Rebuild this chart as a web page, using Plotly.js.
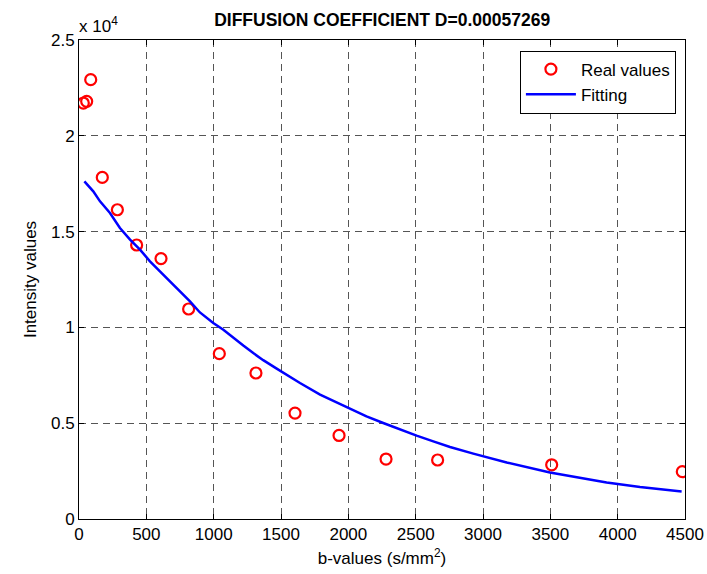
<!DOCTYPE html>
<html>
<head>
<meta charset="utf-8">
<script src="https://cdn.plot.ly/plotly-3.0.1.min.js"></script>
<style>html,body{margin:0;padding:0;background:#fff;}#chart{width:707px;height:574px;}</style>
</head>
<body>
<div id="chart"></div>
<script>
// Real measured values
const realB = [32, 57, 87, 173, 285, 428, 609, 814, 1042, 1314, 1604, 1931, 2280, 2663, 3510, 4480];
const realI = [21710, 21800, 22930, 17830, 16140, 14300, 13590, 10960, 8630, 7620, 5530, 4360, 3130, 3080, 2830, 2470];
// Fitted curve samples
const fitB = [40, 106, 156, 230, 304, 379, 453, 527, 601, 676, 750, 824, 898, 997, 1072, 1146, 1220, 1294, 1368, 1468, 1566, 1641, 1790, 1986, 2135, 2259, 2383, 2507, 2631, 2755, 2928, 3176, 3497, 3671, 3918, 4166, 4475];
const fitI = [17620, 17100, 16580, 15970, 15190, 14580, 14060, 13450, 12920, 12400, 11880, 11360, 10780, 10230, 9880, 9450, 9050, 8660, 8290, 7850, 7400, 7100, 6490, 5850, 5360, 5010, 4660, 4350, 4050, 3760, 3410, 2950, 2430, 2220, 1910, 1670, 1440];
// Tick labels
const xTicks = [0, 500, 1000, 1500, 2000, 2500, 3000, 3500, 4000, 4500];
const yTicks = [0, 5000, 10000, 15000, 20000, 25000];
const yTickText = ['0', '0.5', '1', '1.5', '2', '2.5'];

const font = 'Liberation Sans, Arial, sans-serif';
const gridStyle = {showgrid: true, gridcolor: '#555', gridwidth: 1, griddash: '7px,5px'};

const traces = [
  {x: realB, y: realI, type: 'scatter', mode: 'markers', name: 'Real values',
   marker: {symbol: 'circle-open', size: 11, color: '#ff0000', line: {width: 2.2, color: '#ff0000'}}},
  {x: fitB, y: fitI, type: 'scatter', mode: 'lines', name: 'Fitting',
   line: {color: '#0000ff', width: 2.5}}
];

const layout = {
  width: 707, height: 574,
  margin: {l: 79, r: 22, t: 40, b: 55},
  paper_bgcolor: '#fff', plot_bgcolor: '#fff',
  font: {family: font, size: 17, color: '#000'},
  title: {text: '<b>DIFFUSION COEFFICIENT D=0.00057269</b>', font: {family: font, size: 17.5, color: '#000'},
          x: 0.5405, xanchor: 'center', y: 0.965, yanchor: 'middle'},
  xaxis: Object.assign({
    range: [0, 4500], tickvals: xTicks, ticktext: xTicks.map(String),
    ticks: 'inside', ticklen: 5, tickcolor: '#000', showline: true, linecolor: '#000', linewidth: 1,
    mirror: 'ticks', zeroline: false, tickfont: {size: 17},
    title: {text: 'b-values (s/mm<sup>2</sup>)', font: {size: 17}, standoff: 8}
  }, gridStyle),
  yaxis: Object.assign({
    range: [0, 25000], tickvals: yTicks, ticktext: yTickText,
    ticks: 'inside', ticklen: 5, tickcolor: '#000', showline: true, linecolor: '#000', linewidth: 1,
    mirror: 'ticks', zeroline: false, tickfont: {size: 17},
    title: {text: 'Intensity values', font: {size: 17}, standoff: 10}
  }, gridStyle),
  legend: {x: 0.985, xanchor: 'right', y: 0.978, yanchor: 'top', bgcolor: '#fff',
           bordercolor: '#000', borderwidth: 1, font: {size: 17}, tracegroupgap: 0, itemwidth: 50},
  annotations: [{text: 'x 10<sup>4</sup>', xref: 'paper', yref: 'paper', x: -0.003, y: 1.005,
                 xanchor: 'left', yanchor: 'bottom', showarrow: false, font: {size: 17}}],
  showlegend: true
};

Plotly.newPlot('chart', traces, layout, {displayModeBar: false, staticPlot: true});
</script>
</body>
</html>
